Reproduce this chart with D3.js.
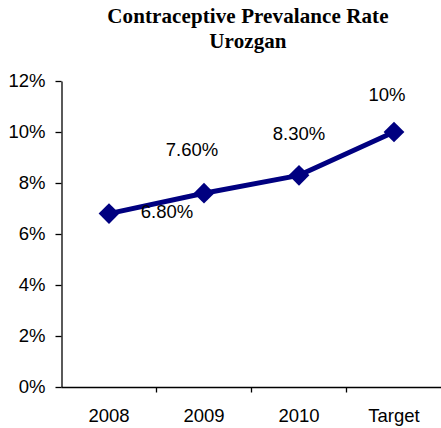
<!DOCTYPE html>
<html>
<head>
<meta charset="utf-8">
<script src="https://cdn.jsdelivr.net/npm/d3@7"></script>
<style>
  html, body { margin: 0; padding: 0; background: #fff; }
  svg { display: block; }
</style>
</head>
<body>
<div id="chart"></div>
<script>
// Contraceptive prevalence rate, Urozgan (percent)
const categories = ["2008", "2009", "2010", "Target"];
const rates = [6.8, 7.6, 8.3, 10];
const rateLabels = ["6.80%", "7.60%", "8.30%", "10%"];
const yTicks = [0, 2, 4, 6, 8, 10, 12];
const titleLines = ["Contraceptive Prevalance Rate", "Urozgan"];

// label offsets from each marker (dx, dy to baseline)
const labelOffsets = [[58, 4], [-12, -37], [0, -35], [-7, -31]];

const W = 441, H = 428;
const svg = d3.select("#chart").append("svg")
  .attr("width", W).attr("height", H);

const x = d3.scaleBand().domain(categories).range([61.5, 441.5]);
const y = d3.scaleLinear().domain([0, 12]).range([387, 81]);

// title
svg.append("g").selectAll("text").data(titleLines).join("text")
  .attr("x", 248).attr("y", (d, i) => 22.5 + i * 25.5)
  .attr("text-anchor", "middle")
  .attr("font-family", "'Liberation Serif', 'Times New Roman', serif")
  .attr("font-weight", "bold").attr("font-size", "21px")
  .attr("letter-spacing", "0.1px")
  .attr("fill", "#000")
  .text(d => d);

const axisFont = "'Liberation Sans', Arial, sans-serif";

// y axis
const yAxis = svg.append("g").attr("transform", "translate(61.5,0)")
  .call(d3.axisLeft(y).tickValues(yTicks).tickFormat(d => d + "%")
    .tickSize(6).tickPadding(10).tickSizeOuter(0));
yAxis.selectAll("text").attr("font-family", axisFont).attr("font-size", "18.5px").attr("fill", "#000");
yAxis.selectAll("line, path").attr("stroke", "#000").attr("stroke-width", 1.3);

// x axis: ticks between categories
const xAxis = svg.append("g").attr("transform", "translate(0,387.5)");
xAxis.append("line").attr("x1", 61.5).attr("x2", 441.5)
  .attr("stroke", "#000").attr("stroke-width", 1.3);
xAxis.selectAll("line.tick").data(categories.slice(1)).join("line")
  .attr("class", "tick")
  .attr("x1", d => x(d)).attr("x2", d => x(d))
  .attr("y1", 0).attr("y2", 5)
  .attr("stroke", "#000").attr("stroke-width", 1.3);
xAxis.selectAll("text").data(categories).join("text")
  .attr("x", d => x(d) + x.bandwidth() / 2)
  .attr("y", 34.5)
  .attr("text-anchor", "middle")
  .attr("font-family", axisFont).attr("font-size", "18.5px").attr("fill", "#000")
  .text(d => d);

// series line
const cx = (d, i) => x(categories[i]) + x.bandwidth() / 2;
const line = d3.line().x((d, i) => cx(d, i)).y(d => y(d));
svg.append("path").datum(rates)
  .attr("d", line)
  .attr("fill", "none").attr("stroke", "#000080")
  .attr("stroke-width", 5).attr("stroke-linejoin", "round");

// diamond markers
svg.append("g").selectAll("path").data(rates).join("path")
  .attr("d", d3.symbol().type(d3.symbolSquare).size(215))
  .attr("transform", (d, i) => `translate(${cx(d, i)},${y(d)}) rotate(45)`)
  .attr("fill", "#000080");

// value labels
svg.append("g").selectAll("text").data(rates).join("text")
  .attr("x", (d, i) => cx(d, i) + labelOffsets[i][0])
  .attr("y", (d, i) => y(d) + labelOffsets[i][1])
  .attr("text-anchor", "middle")
  .attr("font-family", axisFont).attr("font-size", "18.5px").attr("fill", "#000")
  .text((d, i) => rateLabels[i]);
</script>
</body>
</html>
